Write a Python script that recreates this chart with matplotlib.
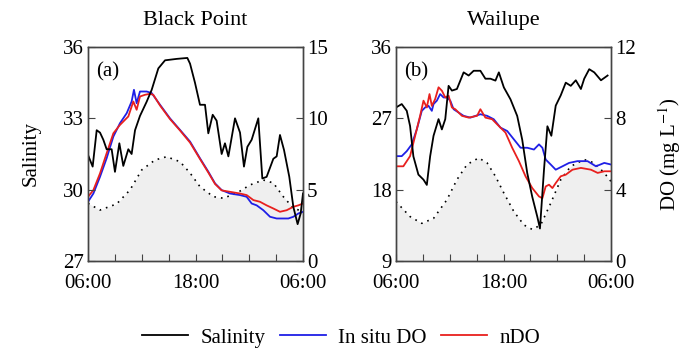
import matplotlib
matplotlib.use('Agg')
import matplotlib.pyplot as plt

plt.rcParams['font.family'] = ['Liberation Serif', 'DejaVu Serif']
plt.rcParams['mathtext.fontset'] = 'stix'

# ---- data (hours after 06:00) ----
# Black Point
bp_sal_t = [0, 0.52, 0.97, 1.34, 1.71, 2.08, 2.64, 3.01, 3.50, 3.94, 4.50, 4.87, 5.25, 5.80,
            6.55, 7.11, 7.85, 8.60, 9.90, 11.09, 11.39, 11.94, 12.50, 13.06, 13.43, 13.92,
            14.36, 14.92, 15.29, 15.67, 16.41, 16.97, 17.41, 17.79, 18.27, 19.01, 19.46,
            19.94, 20.69, 21.06, 21.43, 21.88, 22.47, 22.92, 23.40, 23.74, 24.0]
bp_sal = [31.46, 30.97, 32.5, 32.4, 32.1, 31.7, 31.7, 30.75, 31.95, 31.0, 31.7, 31.5, 32.5, 33.1,
          33.7, 34.2, 35.1, 35.44, 35.5, 35.54, 35.3, 34.5, 33.57, 33.57, 32.37, 33.15,
          32.9, 31.5, 31.95, 31.4, 33.0, 32.4, 30.97, 31.8, 32.1, 33.0, 30.47,
          30.54, 31.3, 31.4, 32.3, 31.67, 30.54, 29.28, 28.55, 29.0, 29.84]

bp_do_t = [0, 0.60, 1.34, 2.08, 2.83, 3.57, 4.32, 4.87, 5.13, 5.43, 5.80, 6.18, 6.55, 7.11, 8.04,
           9.15, 10.27, 11.39, 12.50, 13.43, 14.18, 14.92, 15.85, 16.97, 17.71, 18.27, 18.83,
           19.57, 20.32, 21.06, 21.80, 22.36, 22.92, 23.48, 24.0]
bp_do = [4.15, 4.73, 5.9, 7.2, 8.72, 9.66, 10.36, 11.18, 12.0, 11.06, 11.88, 11.88, 11.88, 11.77, 10.95,
         10.0, 9.19, 8.37, 7.2, 6.26, 5.44, 4.97, 4.73, 4.62, 4.5, 4.03, 3.9,
         3.56, 3.1, 2.98, 2.98, 2.98, 3.1, 3.33, 3.45]

bp_ndo_t = [0, 0.60, 1.34, 2.08, 2.83, 3.57, 4.50, 5.06, 5.43, 5.80, 6.36, 6.92, 7.29, 8.04, 9.15,
            10.27, 11.39, 12.50, 13.43, 14.18, 14.92, 15.85, 16.97, 17.71, 18.46, 19.20, 19.94,
            20.69, 21.43, 22.18, 22.92, 23.48, 24.0]
bp_ndo = [4.5, 4.97, 6.14, 7.55, 8.95, 9.54, 10.13, 11.18, 10.6, 11.53, 11.65, 11.72, 11.65, 10.9, 9.95,
          9.15, 8.3, 7.15, 6.2, 5.4, 4.95, 4.85, 4.73, 4.62, 4.27, 4.15, 3.9,
          3.68, 3.45, 3.56, 3.8, 3.9, 4.03]

bp_tide_t = [0, 1.34, 3.2, 4.69, 5.99, 7.48, 8.78, 10.27, 11.39, 12.5, 13.99, 15.1, 16.6, 18.08,
             19.57, 20.69, 21.8, 22.92, 24.0]
bp_tide = [4.04, 3.57, 4.0, 4.98, 6.38, 7.08, 7.31, 6.96, 6.17, 5.21, 4.51, 4.4, 4.76, 5.33,
           5.68, 5.47, 4.51, 3.71, 3.46]

# Wailupe
wl_sal_t = [0, 0.64, 1.20, 1.57, 1.94, 2.50, 3.07, 3.44, 3.81, 4.19, 4.75, 5.12, 5.50, 5.87, 6.24,
            6.80, 7.55, 8.11, 8.67, 9.42, 9.98, 10.54, 11.10, 11.48, 12.04, 12.78, 13.53, 14.09,
            14.65, 15.21, 15.77, 16.07, 16.52, 16.90, 17.34, 17.83, 18.39, 18.95, 19.51, 20.07,
            20.64, 21.01, 21.57, 22.13, 22.88, 23.62]
wl_sal = [28.37, 28.8, 27.95, 26.04, 22.2, 19.9, 19.26, 18.6, 22.2, 24.8, 26.9, 25.6, 26.9, 31.1, 30.5,
          30.7, 32.8, 32.4, 33.0, 33.0, 32.0, 32.0, 31.76, 32.8, 30.9, 29.4, 27.3, 24.3,
          20.1, 17.1, 14.6, 13.1, 20.5, 26.0, 24.8, 28.6, 29.9, 31.5, 31.1, 31.8,
          30.7, 32.0, 33.2, 32.8, 31.8, 32.4]

wl_do_t = [0, 0.64, 1.20, 1.76, 2.32, 2.88, 3.25, 3.63, 4.00, 4.19, 4.56, 4.93, 5.31, 5.68, 6.06,
           6.43, 7.55, 8.30, 9.42, 10.17, 10.91, 11.66, 12.41, 13.16, 13.91, 14.65, 15.40, 15.96,
           16.34, 16.71, 17.27, 17.83, 18.58, 19.32, 20.26, 21.38, 22.32, 23.25, 24.0]
wl_do = [5.88, 5.88, 6.16, 6.54, 7.38, 8.42, 8.61, 8.7, 8.42, 8.8, 8.99, 9.36, 9.17, 9.17, 8.99,
         8.51, 8.14, 8.04, 8.23, 8.14, 7.95, 7.48, 7.29, 6.82, 6.35, 6.35, 6.25, 6.54,
         6.35, 5.69, 5.41, 5.12, 5.31, 5.5, 5.6, 5.6, 5.31, 5.5, 5.41]

wl_ndo_t = [0, 0.82, 1.57, 2.13, 2.69, 3.07, 3.44, 3.74, 4.00, 4.37, 4.75, 5.12, 5.50, 5.87, 6.24,
            6.62, 7.36, 8.11, 9.05, 9.42, 9.98, 10.73, 11.48, 12.22, 12.97, 13.72, 14.46, 15.21,
            15.96, 16.34, 16.71, 17.08, 17.46, 17.83, 18.39, 18.95, 19.70, 20.64, 21.76, 22.51,
            23.25, 24.0]
wl_ndo = [5.31, 5.31, 5.88, 7.0, 8.14, 8.99, 8.61, 9.36, 8.7, 9.08, 9.74, 9.55, 9.17, 9.27, 8.61,
          8.51, 8.14, 8.04, 8.14, 8.51, 8.04, 7.95, 7.57, 7.2, 6.35, 5.6, 4.75, 4.09,
          3.62, 3.52, 4.18, 4.28, 4.09, 4.37, 4.75, 4.84, 5.12, 5.22, 5.12, 4.94,
          5.03, 5.03]

wl_tide_t = [0, 1.57, 2.88, 4.19, 5.68, 6.8, 7.93, 9.23, 10.17, 11.1, 12.04, 13.16, 14.28, 15.21,
             16.15, 17.27, 18.39, 19.51, 21.0, 22.13, 23.25, 24.0]
wl_tide = [3.33, 2.49, 2.11, 2.39, 3.43, 4.56, 5.41, 5.78, 5.5, 4.75, 3.81, 2.77, 2.02, 1.77,
           2.02, 3.24, 4.56, 5.31, 5.69, 5.5, 4.94, 4.46]

xtick_pos = [0, 3, 6, 9, 12, 15, 18, 21, 24]
xtick_lab = ['06:00', '', '', '', '18:00', '', '', '', '06:00']

panels = [
    dict(title='Black Point', tag='(a)', sal_t=bp_sal_t, sal=bp_sal, do_t=bp_do_t, do=bp_do,
         ndo_t=bp_ndo_t, ndo=bp_ndo, tide_t=bp_tide_t, tide=bp_tide,
         sal_lim=(27, 36), sal_ticks=[27, 30, 33, 36], do_lim=(0, 15), do_ticks=[0, 5, 10, 15]),
    dict(title='Wailupe', tag='(b)', sal_t=wl_sal_t, sal=wl_sal, do_t=wl_do_t, do=wl_do,
         ndo_t=wl_ndo_t, ndo=wl_ndo, tide_t=wl_tide_t, tide=wl_tide,
         sal_lim=(9, 36), sal_ticks=[9, 18, 27, 36], do_lim=(0, 12), do_ticks=[0, 4, 8, 12]),
]

fig = plt.figure(figsize=(6.92, 3.51), dpi=100)
lefts = [88 / 692, 396 / 692]
fs = 15
frame_col = '#444444'

for i, p in enumerate(panels):
    ax = fig.add_axes([lefts[i], 90 / 351, 215 / 692, 214 / 351])
    ax2 = ax.twinx()

    # tide shading and DO lines on the right axis
    ax2.fill_between(p['tide_t'], 0, p['tide'], color='#efefef', lw=0, zorder=1)
    ax2.plot(p['tide_t'], p['tide'], ls=(0, (1, 3)), color='black', lw=1.2, zorder=2)
    ax2.plot(p['do_t'], p['do'], color='#1f1fe6', lw=1.3, zorder=3, label='In situ DO')
    ax2.plot(p['ndo_t'], p['ndo'], color='#e8201e', lw=1.3, zorder=4, label='nDO')

    # salinity on the left axis, drawn on top
    ax.set_zorder(ax2.get_zorder() + 1)
    ax.patch.set_visible(False)
    ax.plot(p['sal_t'], p['sal'], color='black', lw=1.3, label='Salinity')

    ax.set_xlim(0, 24)
    ax.set_ylim(*p['sal_lim'])
    ax.set_yticks(p['sal_ticks'])
    ax2.set_ylim(*p['do_lim'])
    ax2.set_yticks(p['do_ticks'])
    ax.set_xticks(xtick_pos)
    ax.set_xticklabels(xtick_lab)

    ax.tick_params(direction='in', length=5, labelsize=fs, color=frame_col, pad=3)
    ax.tick_params(axis='x', pad=9)
    ax2.tick_params(direction='in', length=5, labelsize=fs, color=frame_col, pad=3)
    for a in (ax, ax2):
        for s in a.spines.values():
            s.set_color(frame_col)
            s.set_linewidth(1.0)

    ax.set_title(p['title'], fontsize=16, pad=16)
    ax.text(0.04, 0.93, p['tag'], transform=ax.transAxes, fontsize=fs, va='top', ha='left')

    if i == 0:
        ax.set_ylabel('Salinity', fontsize=fs)
        ax.yaxis.set_label_coords(-0.22, 0.5)
        handles = ax.get_lines() + ax2.get_lines()[1:]
    else:
        ax2.set_ylabel('DO (mg L$^{-1}$)', fontsize=fs)
        ax2.yaxis.set_label_coords(1.21, 0.5)

fig.legend(handles, [h.get_label() for h in handles], loc='center',
           bbox_to_anchor=(341 / 692, 1 - 338 / 351), ncol=3, frameon=False,
           fontsize=fs, handlelength=2.2, columnspacing=0.7, handletextpad=0.6)

fig.savefig('out.png', dpi=100)
